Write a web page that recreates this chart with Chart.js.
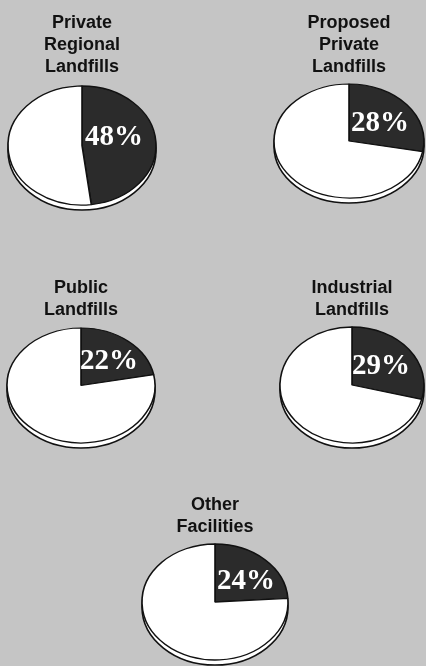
<!DOCTYPE html>
<html><head><meta charset="utf-8">
<script src="https://cdn.jsdelivr.net/npm/chart.js@4"></script>
<style>
html,body{margin:0;padding:0;width:426px;height:666px;overflow:hidden;background:#c5c5c5;}
canvas{position:absolute;}
</style></head><body>
<script>
// ---- data ----
const titles = [
  ["Private", "Regional", "Landfills"],
  ["Proposed", "Private", "Landfills"],
  ["Public", "Landfills"],
  ["Industrial", "Landfills"],
  ["Other", "Facilities"]
];
const shares = [48, 28, 22, 29, 24];
const remainder = [52, 72, 78, 71, 76];

// ---- layout (page positions / sizes only) ----
const LH = 22, PT = 4, RIM = 5;
const boxes = [
  {cx: 82,  cy: 145.5, rx: 74, ry: 59.5, titleY: 23,    lx: 3,  ly: -8},
  {cx: 349, cy: 141,   rx: 75, ry: 57,   titleY: 23,    lx: 2,  ly: -17},
  {cx: 81,  cy: 385.5, rx: 74, ry: 57.5, titleY: 288,   lx: -1, ly: -24},
  {cx: 352, cy: 385,   rx: 72, ry: 58,   titleY: 288,   lx: 0,  ly: -18},
  {cx: 215, cy: 602,   rx: 73, ry: 58,   titleY: 504.5, lx: 2,  ly: -20}
];

const ellipsePlugin = {
  id: 'ellipse',
  beforeDatasetsDraw(chart, args, opts) {
    const arc = chart.getDatasetMeta(0).data[0];
    const {x, y, outerRadius} = arc;
    const ctx = chart.ctx;
    ctx.save();
    ctx.beginPath();
    ctx.ellipse(x, y + opts.rim, outerRadius, opts.ry, 0, 0, Math.PI * 2);
    ctx.fillStyle = '#ffffff';
    ctx.fill();
    ctx.lineWidth = 1.6;
    ctx.strokeStyle = '#111111';
    ctx.stroke();
    ctx.restore();
    ctx.save();
    ctx.translate(x, y);
    ctx.scale(1, opts.ry / outerRadius);
    ctx.translate(-x, -y);
  },
  afterDatasetsDraw(chart, args, opts) {
    const ctx = chart.ctx;
    ctx.restore();
    const arc = chart.getDatasetMeta(0).data[0];
    ctx.save();
    ctx.font = 'bold 29px "Liberation Serif", "DejaVu Serif", serif';
    ctx.fillStyle = '#ffffff';
    ctx.textAlign = 'left';
    ctx.textBaseline = 'middle';
    ctx.fillText(opts.label, arc.x + opts.lx, arc.y + opts.ly);
    ctx.restore();
  }
};

titles.forEach((t, i) => {
  const b = boxes[i];
  const W = 2 * b.rx + 24;
  const left = Math.round(b.cx - W / 2);
  const top = Math.round(b.titleY - PT - LH / 2);
  const titleBlock = PT + t.length * LH;
  const cyc = b.cy - top;
  const H = Math.round(2 * cyc - titleBlock);
  const cv = document.createElement('canvas');
  cv.width = W; cv.height = H;
  cv.style.left = left + 'px';
  cv.style.top = top + 'px';
  cv.style.width = W + 'px';
  cv.style.height = H + 'px';
  document.body.appendChild(cv);
  new Chart(cv, {
    type: 'pie',
    data: {
      labels: ['Share', 'Other'],
      datasets: [{
        data: [shares[i], remainder[i]],
        backgroundColor: ['#2b2b2b', '#ffffff'],
        borderColor: '#111111',
        borderWidth: 1.6,
        hoverOffset: 0,
        offset: 0,
        clip: false
      }]
    },
    options: {
      responsive: false,
      animation: false,
      events: [],
      radius: b.rx,
      layout: {padding: 0},
      plugins: {
        legend: {display: false},
        tooltip: {enabled: false},
        title: {
          display: true,
          text: t,
          color: '#111111',
          font: {family: '"Liberation Sans", Arial, sans-serif', size: 18, weight: 'bold', lineHeight: LH / 18},
          padding: {top: PT, bottom: 0}
        },
        ellipse: {ry: b.ry, rim: RIM, label: shares[i] + '%', lx: b.lx, ly: b.ly}
      }
    },
    plugins: [ellipsePlugin]
  });
});
</script>
</body></html>
